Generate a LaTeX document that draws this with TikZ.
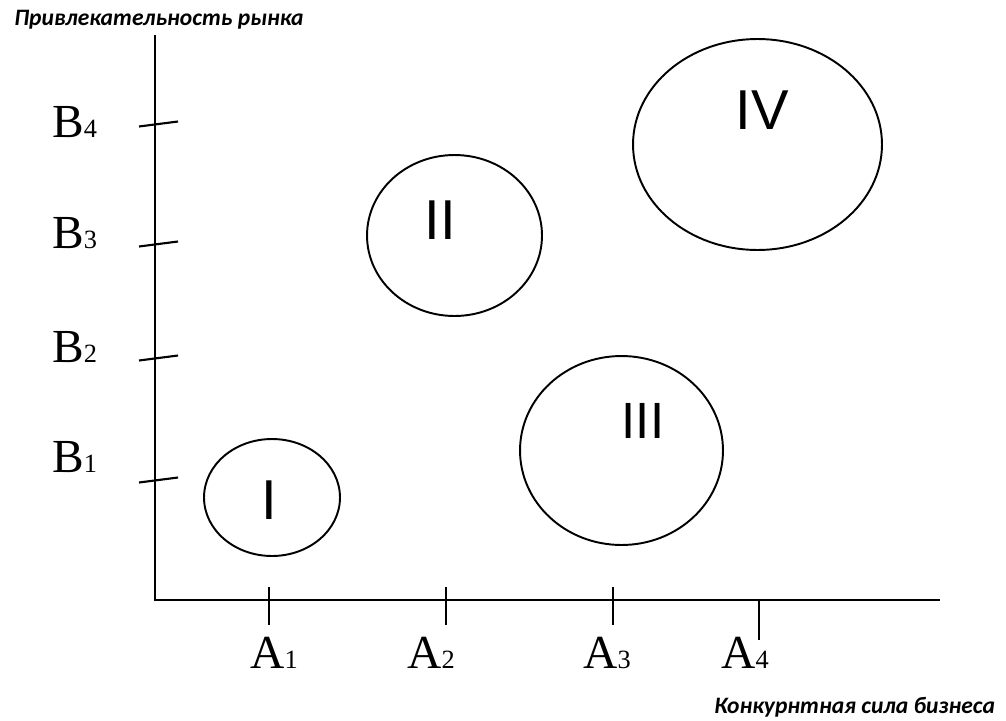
\documentclass[tikz,border=0pt]{standalone}
\usepackage{fontspec}
\setmainfont{Liberation Serif}
\newfontfamily\capfont{Carlito}
\newfontfamily\romfont{Liberation Sans}
\usepackage{tikz}
\usetikzlibrary{positioning,shapes.geometric}
\tikzset{
  axisline/.style={line width=1.4pt, draw=black},
  tickline/.style={line width=1.2pt, draw=black},
  zone/.style={ellipse, draw=black, line width=1.1pt, inner sep=0pt},
  romnum/.style={font=\romfont\fontsize{32}{32}\selectfont, inner sep=0pt, anchor=base},
  axislabel/.style={font=\fontsize{27}{27}\selectfont, inner sep=0pt, anchor=base west},
  axistitle/.style={font=\capfont\bfseries\itshape\fontsize{13.4}{14}\selectfont, inner sep=0pt, anchor=base west}
}
\newcommand{\idx}[1]{{\fontsize{15}{15}\selectfont #1}}

\begin{document}
\begin{tikzpicture}[x=0.02cm, y=-0.02cm]
  \useasboundingbox (0,0) rectangle (1006,720);
  % axes
  \coordinate (ytop) at (155,35);
  \coordinate (orig) at (155,600);
  \coordinate (xend) at (940,600);
  \draw[axisline] (ytop) -- (orig) -- (xend);
  \node[axistitle] (ytitle) at (14,25) {Привлекательность рынка};
  \node[axistitle] (xtitle) at (714,713) {Конкурнтная сила бизнеса};

  % ticks on the vertical axis
  \foreach \name/\y in {b4/124, b3/244, b2/358, b1/480}{
    \coordinate (\name l) at (139,\y+2.5);
    \coordinate (\name r) at (178,\y-2.5);
    \draw[tickline] (\name l) -- (\name r);
  }
  \node[axislabel] (lb4) at (52,137) {B\idx{4}};
  \node[axislabel] (lb3) at (52,248) {B\idx{3}};
  \node[axislabel] (lb2) at (52,362) {B\idx{2}};
  \node[axislabel] (lb1) at (52,472) {B\idx{1}};

  % ticks on the horizontal axis
  \foreach \name/\x/\ya/\yb in {a1/269/587/625, a2/446/587/625, a3/613/587/625, a4/759/601/640}{
    \coordinate (\name u) at (\x,\ya);
    \coordinate (\name d) at (\x,\yb);
    \draw[tickline] (\name u) -- (\name d);
  }
  \node[axislabel] (la1) at (250,668) {A\idx{1}};
  \node[axislabel] (la2) at (407,668) {A\idx{2}};
  \node[axislabel] (la3) at (583,668) {A\idx{3}};
  \node[axislabel] (la4) at (721,668) {A\idx{4}};

  % zones
  \node[zone, minimum width=2.72cm, minimum height=2.34cm] (z1) at (272,497.5) {};
  \node[zone, minimum width=3.50cm, minimum height=3.22cm] (z2) at (454.5,235.5) {};
  \node[zone, minimum width=4.06cm, minimum height=3.78cm] (z3) at (621.5,450.5) {};
  \node[zone, minimum width=4.98cm, minimum height=4.22cm] (z4) at (757.5,144.5) {};
  \node[romnum] (n1) at (269,519) {I};
  \node[romnum] (n2) at (440.5,239) {II};
  \node[romnum, font=\romfont\fontsize{29}{29}\selectfont] (n3) at (643,438) {III};
  \node[romnum] (n4) at (762.5,129) {IV};
\end{tikzpicture}
\end{document}
